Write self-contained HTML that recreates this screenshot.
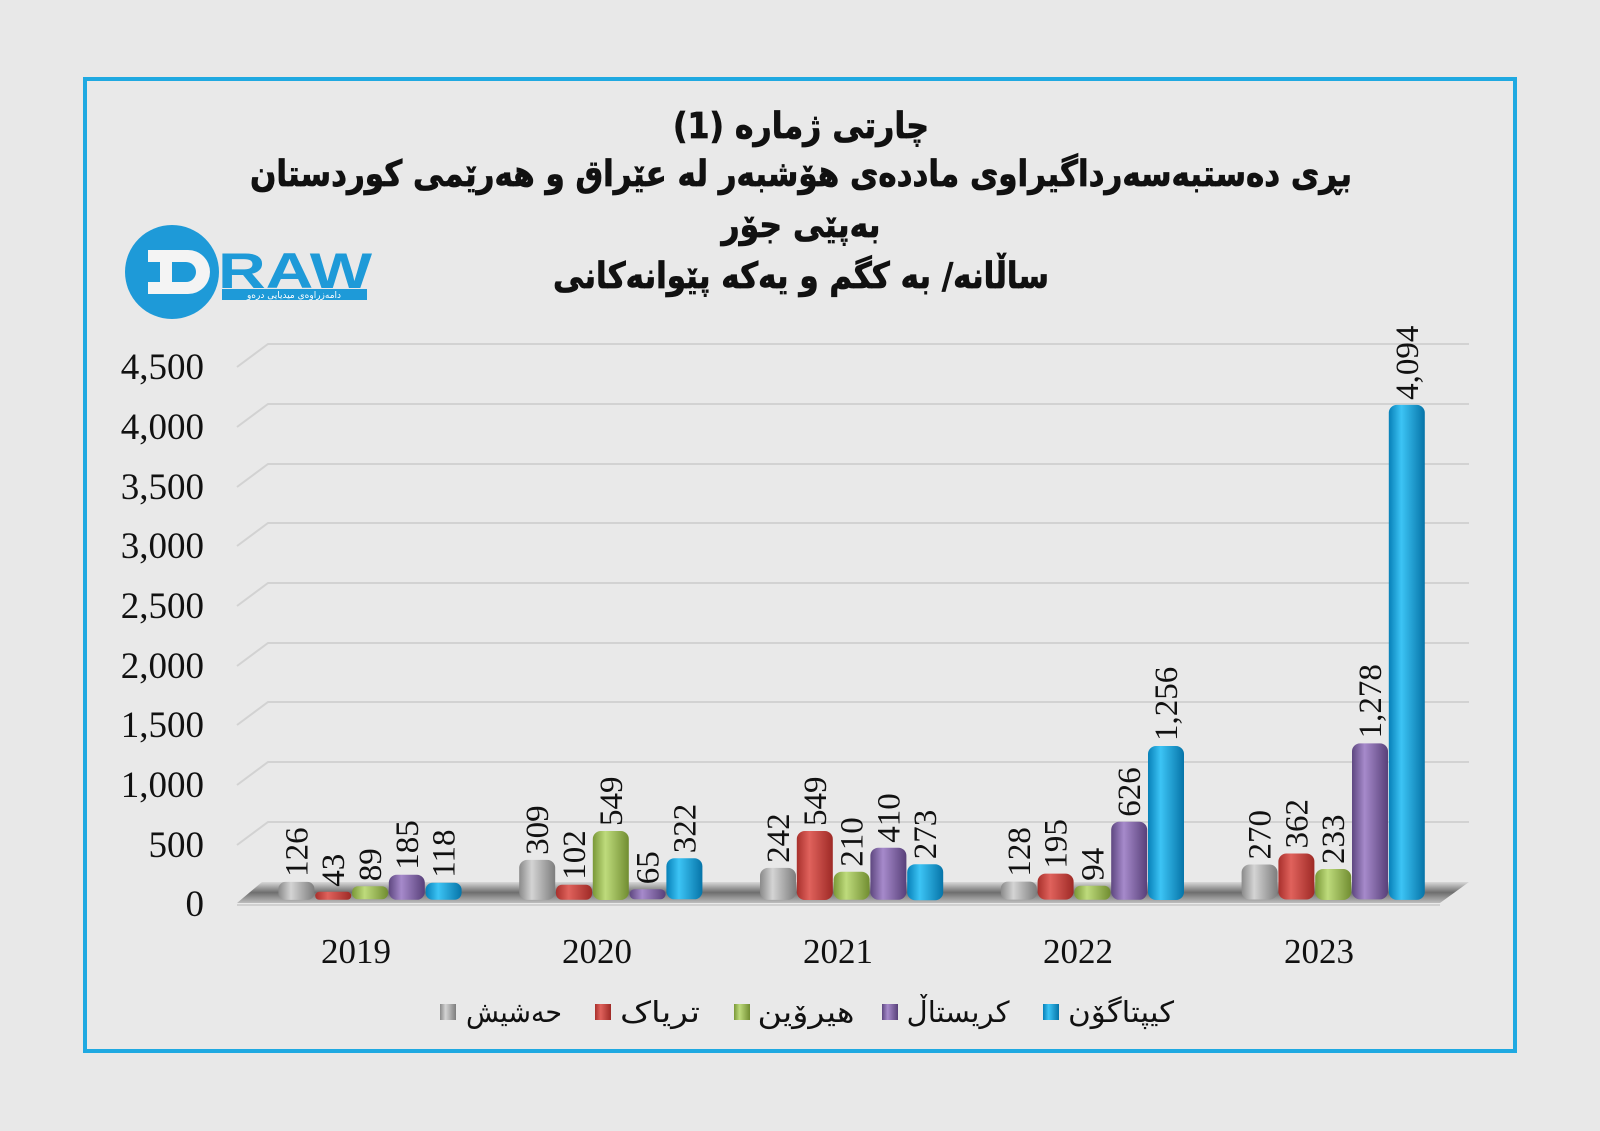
<!DOCTYPE html>
<html><head><meta charset="utf-8"><style>
html,body{margin:0;padding:0;background:#e8e8e8;}
svg{display:block;}
</style></head><body>
<svg width="1600" height="1131" viewBox="0 0 1600 1131" xmlns="http://www.w3.org/2000/svg">
<defs>
<linearGradient id="g0" x1="0" x2="1"><stop offset="0" stop-color="#8a8a8a"/><stop offset=".35" stop-color="#d4d4d4"/><stop offset="1" stop-color="#7d7d7d"/></linearGradient>
<linearGradient id="g1" x1="0" x2="1"><stop offset="0" stop-color="#a8302c"/><stop offset=".35" stop-color="#e0625c"/><stop offset="1" stop-color="#9e2a26"/></linearGradient>
<linearGradient id="g2" x1="0" x2="1"><stop offset="0" stop-color="#7a9838"/><stop offset=".35" stop-color="#bedb7c"/><stop offset="1" stop-color="#718d31"/></linearGradient>
<linearGradient id="g3" x1="0" x2="1"><stop offset="0" stop-color="#5e4780"/><stop offset=".35" stop-color="#a68acb"/><stop offset="1" stop-color="#584079"/></linearGradient>
<linearGradient id="g4" x1="0" x2="1"><stop offset="0" stop-color="#0780b8"/><stop offset=".35" stop-color="#3cc4f5"/><stop offset="1" stop-color="#0674a8"/></linearGradient>
<linearGradient id="fl" x1="0" y1="0" x2="0" y2="1"><stop offset="0" stop-color="#d8d8d8"/><stop offset=".5" stop-color="#6e6e6e"/><stop offset="1" stop-color="#bdbdbd"/></linearGradient>
</defs>
<rect width="1600" height="1131" fill="#e8e8e8"/>
<rect x="85" y="79" width="1430" height="972" fill="#e9e9e9" stroke="#1fa9e1" stroke-width="4"/>

<g font-family="'DejaVu Sans', sans-serif" font-weight="bold" font-size="36" fill="#111" text-anchor="middle" stroke="#111" stroke-width="0.8">
<text x="801" y="138" textLength="256" lengthAdjust="spacingAndGlyphs">چارتی ژمارە (1)</text>
<text x="801" y="186" textLength="1102" lengthAdjust="spacingAndGlyphs">بڕی دەستبەسەرداگیراوی ماددەی هۆشبەر لە عێراق و هەرێمی کوردستان</text>
<text x="801" y="237" textLength="159" lengthAdjust="spacingAndGlyphs">بەپێی جۆر</text>
<text x="801" y="288" textLength="496" lengthAdjust="spacingAndGlyphs">ساڵانە/ بە کگم و یەکە پێوانەکانی</text>
</g>

<!-- logo -->
<circle cx="172" cy="272" r="47" fill="#1e9ad8"/>
<path d="M148 250 h40 a22 22 0 0 1 0 44 h-40 v-12 h12 v-20 h-12z" fill="#f4f4f4"/>
<path d="M172 262 h14 a10 10 0 0 1 0 20 h-14z" fill="#1e9ad8"/>
<text x="218" y="288" font-family="'Liberation Sans',sans-serif" font-weight="bold" font-size="50" fill="#1e9ad8" textLength="154" lengthAdjust="spacingAndGlyphs">RAW</text>
<rect x="222" y="289" width="145" height="11" fill="#1e9ad8"/>
<text x="294" y="298" font-family="'DejaVu Sans',sans-serif" font-size="9" fill="#fff" text-anchor="middle">دامەزراوەی میدیایی درەو</text>

<!-- grid -->
<g stroke="#d2d2d2" stroke-width="2" fill="none">
<polyline points="237,845 268,822 1469,822"/>
<polyline points="237,785 268,762 1469,762"/>
<polyline points="237,725 268,702 1469,702"/>
<polyline points="237,666 268,643 1469,643"/>
<polyline points="237,606 268,583 1469,583"/>
<polyline points="237,546 268,523 1469,523"/>
<polyline points="237,487 268,464 1469,464"/>
<polyline points="237,427 268,404 1469,404"/>
<polyline points="237,367 268,344 1469,344"/>
</g>
<polygon points="262,882 1469,882 1440,903 237,903" fill="url(#fl)"/>
<line x1="237" y1="905" x2="1440" y2="905" stroke="#d0d0d0" stroke-width="2"/>

<g font-family="'Liberation Serif',serif" font-size="37" fill="#111" text-anchor="end">
<text x="204" y="916">0</text>
<text x="204" y="857">500</text>
<text x="204" y="797">1,000</text>
<text x="204" y="737">1,500</text>
<text x="204" y="678">2,000</text>
<text x="204" y="618">2,500</text>
<text x="204" y="558">3,000</text>
<text x="204" y="499">3,500</text>
<text x="204" y="439">4,000</text>
<text x="204" y="379">4,500</text>
</g>

<g>
<rect x="278.4" y="881.9" width="36" height="18" rx="7" fill="url(#g0)"/>
<rect x="315.2" y="891.8" width="36" height="8" rx="4" fill="url(#g1)"/>
<rect x="352" y="886.3" width="36" height="13" rx="6" fill="url(#g2)"/>
<rect x="388.8" y="874.8" width="36" height="25" rx="8" fill="url(#g3)"/>
<rect x="425.6" y="882.8" width="36" height="17" rx="7" fill="url(#g4)"/>

<rect x="519.2" y="859.9" width="36" height="40" rx="8" fill="url(#g0)"/>
<rect x="556" y="884.7" width="36" height="15" rx="6" fill="url(#g1)"/>
<rect x="592.8" y="831" width="36" height="69" rx="8" fill="url(#g2)"/>
<rect x="629.6" y="889.2" width="36" height="10" rx="5" fill="url(#g3)"/>
<rect x="666.4" y="858.3" width="36" height="41" rx="8" fill="url(#g4)"/>

<rect x="760" y="867.9" width="36" height="32" rx="8" fill="url(#g0)"/>
<rect x="796.8" y="831" width="36" height="69" rx="8" fill="url(#g1)"/>
<rect x="833.6" y="871.8" width="36" height="28" rx="8" fill="url(#g2)"/>
<rect x="870.4" y="847.7" width="36" height="52" rx="8" fill="url(#g3)"/>
<rect x="907.2" y="864.2" width="36" height="36" rx="8" fill="url(#g4)"/>

<rect x="1000.8" y="881.6" width="36" height="18" rx="7" fill="url(#g0)"/>
<rect x="1037.6" y="873.6" width="36" height="26" rx="8" fill="url(#g1)"/>
<rect x="1074.4" y="885.7" width="36" height="14" rx="6" fill="url(#g2)"/>
<rect x="1111.2" y="821.8" width="36" height="78" rx="8" fill="url(#g3)"/>
<rect x="1148" y="746" width="36" height="154" rx="8" fill="url(#g4)"/>

<rect x="1241.6" y="864.5" width="36" height="35" rx="8" fill="url(#g0)"/>
<rect x="1278.4" y="853.5" width="36" height="46" rx="8" fill="url(#g1)"/>
<rect x="1315.2" y="869" width="36" height="31" rx="8" fill="url(#g2)"/>
<rect x="1352" y="743.4" width="36" height="156" rx="8" fill="url(#g3)"/>
<rect x="1388.8" y="404.9" width="36" height="495" rx="8" fill="url(#g4)"/>
</g>

<g font-family="'Liberation Serif',serif" font-size="33" fill="#111">
<text transform="translate(307.4,876.9) rotate(-90)">126</text>
<text transform="translate(344.2,886.8) rotate(-90)">43</text>
<text transform="translate(381,881.3) rotate(-90)">89</text>
<text transform="translate(417.8,869.8) rotate(-90)">185</text>
<text transform="translate(454.6,877.8) rotate(-90)">118</text>

<text transform="translate(548.2,854.9) rotate(-90)">309</text>
<text transform="translate(585,879.7) rotate(-90)">102</text>
<text transform="translate(621.8,826) rotate(-90)">549</text>
<text transform="translate(658.6,884.2) rotate(-90)">65</text>
<text transform="translate(695.4,853.3) rotate(-90)">322</text>

<text transform="translate(789,862.9) rotate(-90)">242</text>
<text transform="translate(825.8,826) rotate(-90)">549</text>
<text transform="translate(862.6,866.8) rotate(-90)">210</text>
<text transform="translate(899.4,842.7) rotate(-90)">410</text>
<text transform="translate(936.2,859.2) rotate(-90)">273</text>

<text transform="translate(1029.8,876.6) rotate(-90)">128</text>
<text transform="translate(1066.6,868.6) rotate(-90)">195</text>
<text transform="translate(1103.4,880.7) rotate(-90)">94</text>
<text transform="translate(1140.2,816.8) rotate(-90)">626</text>
<text transform="translate(1177,741) rotate(-90)">1,256</text>

<text transform="translate(1270.6,859.5) rotate(-90)">270</text>
<text transform="translate(1307.4,848.5) rotate(-90)">362</text>
<text transform="translate(1344.2,864) rotate(-90)">233</text>
<text transform="translate(1381,738.4) rotate(-90)">1,278</text>
<text transform="translate(1417.8,399.9) rotate(-90)">4,094</text>
</g>

<g font-family="'Liberation Serif',serif" font-size="35" fill="#111" text-anchor="middle">
<text x="356" y="963">2019</text>
<text x="597" y="963">2020</text>
<text x="838" y="963">2021</text>
<text x="1078" y="963">2022</text>
<text x="1319" y="963">2023</text>
</g>

<g font-family="'DejaVu Sans',sans-serif" font-size="29" fill="#111" text-anchor="middle">
<rect x="440" y="1004" width="16" height="16" fill="url(#g0)"/><text x="514" y="1022" textLength="96" lengthAdjust="spacingAndGlyphs">حەشیش</text>
<rect x="595" y="1004" width="16" height="16" fill="url(#g1)"/><text x="660" y="1022" textLength="80" lengthAdjust="spacingAndGlyphs">تریاک</text>
<rect x="734" y="1004" width="16" height="16" fill="url(#g2)"/><text x="806" y="1022" textLength="97" lengthAdjust="spacingAndGlyphs">هیرۆین</text>
<rect x="882" y="1004" width="16" height="16" fill="url(#g3)"/><text x="958" y="1022" textLength="103" lengthAdjust="spacingAndGlyphs">کریستاڵ</text>
<rect x="1043" y="1004" width="16" height="16" fill="url(#g4)"/><text x="1121" y="1022" textLength="106" lengthAdjust="spacingAndGlyphs">کیپتاگۆن</text>
</g>
</svg>
</body></html>
